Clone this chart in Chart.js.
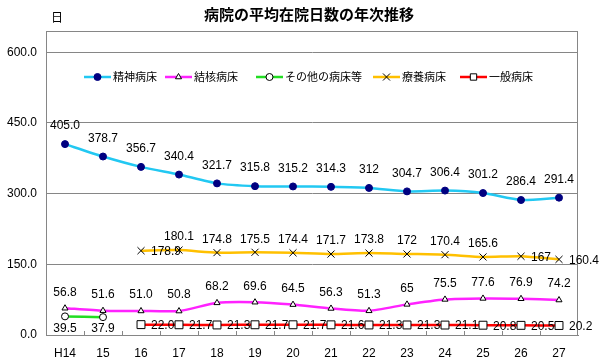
<!DOCTYPE html>
<html>
<head>
<meta charset="utf-8">
<script src="https://cdn.jsdelivr.net/npm/chart.js@4/dist/chart.umd.min.js"></script>
<style>
  html, body { margin: 0; padding: 0; background: #fff; }
</style>
</head>
<body>
<canvas id="myChart" width="600" height="361"></canvas>
<script>
// 年次 (平成)
const years = ["H14", "15", "16", "17", "18", "19", "20", "21", "22", "23", "24", "25", "26", "27"];

// values as printed on the chart
const seishin = ["405.0", "378.7", "356.7", "340.4", "321.7", "315.8", "315.2", "314.3", "312", "304.7", "306.4", "301.2", "286.4", "291.4"];
const kekkaku = ["56.8", "51.6", "51.0", "50.8", "68.2", "69.6", "64.5", "56.3", "51.3", "65", "75.5", "77.6", "76.9", "74.2"];
const sonota = ["39.5", "37.9", null, null, null, null, null, null, null, null, null, null, null, null];
const ryoyo = [null, null, "178.9", "180.1", "174.8", "175.5", "174.4", "171.7", "173.8", "172", "170.4", "165.6", "167", "160.4"];
const ippan = [null, null, "22.0", "21.7", "21.3", "21.7", "21.7", "21.6", "21.3", "21.3", "21.1", "20.8", "20.5", "20.2"];

const yTicks = [0, 150, 300, 450, 600];

const num = (arr) => arr.map((v) => (v === null ? null : Number(v)));
const LABEL_FONT = '12px "Liberation Sans Narrow", "Liberation Sans", sans-serif';
const JP_FONT = '"Liberation Sans", "Noto Sans CJK JP", sans-serif';

const series = [
  { label: "精神病床", raw: seishin, color: "#22C8F2", style: "circle", radius: 3.5, fill: "#000080", stroke: "#000080", pos: () => "above", gap: 18 },
  { label: "結核病床", raw: kekkaku, color: "#FF22FF", style: "triangle", radius: 3.5, fill: "#ffffff", stroke: "#000000", pos: () => "above", gap: 16 },
  { label: "その他の病床等", raw: sonota, color: "#22DD22", style: "circle", radius: 3.5, fill: "#ffffff", stroke: "#000000", pos: () => "below", gap: 12 },
  { label: "療養病床", raw: ryoyo, color: "#FFC000", style: "crossRot", radius: 5, fill: "#000000", stroke: "#000000", pos: (i) => (i === 2 || i === 12 || i === 13 ? "right" : "above"), gap: 13 },
  { label: "一般病床", raw: ippan, color: "#FF0000", style: "rect", radius: 5.6, fill: "#ffffff", stroke: "#000000", pos: () => "right", gap: 0 },
];

// frame, inner tick marks, data labels, legend and title
const decor = {
  id: "decor",
  beforeDatasetsDraw(chart) {
    const { ctx, chartArea: a } = chart;
    const x = chart.scales.x;
    ctx.save();
    ctx.strokeStyle = "#868686";
    ctx.lineWidth = 1;
    ctx.strokeRect(a.left + 0.5, a.top + 0.5, a.right - a.left - 1, a.bottom - a.top);
    ctx.beginPath();
    for (let i = 1; i < years.length; i++) {
      const px = Math.round((x.getPixelForValue(i - 1) + x.getPixelForValue(i)) / 2) + 0.5;
      ctx.moveTo(px, a.bottom);
      ctx.lineTo(px, a.bottom - 4);
    }
    ctx.stroke();
    ctx.restore();
  },
  afterDatasetsDraw(chart) {
    const { ctx } = chart;
    ctx.save();
    ctx.font = LABEL_FONT;
    ctx.fillStyle = "#000";
    chart.data.datasets.forEach((ds, di) => {
      const s = series[di];
      const meta = chart.getDatasetMeta(di);
      meta.data.forEach((pt, i) => {
        const txt = s.raw[i];
        if (txt === null) return;
        const p = s.pos(i);
        if (p === "right") {
          ctx.textAlign = "left";
          ctx.textBaseline = "middle";
          ctx.fillText(txt, pt.x + 10, pt.y + 1);
        } else if (p === "below") {
          ctx.textAlign = "center";
          ctx.textBaseline = "middle";
          ctx.fillText(txt, pt.x, pt.y + s.gap);
        } else {
          ctx.textAlign = "center";
          ctx.textBaseline = "middle";
          ctx.fillText(txt, pt.x, pt.y - s.gap);
        }
      });
    });
    ctx.restore();
  },
  afterDraw(chart) {
    const { ctx } = chart;
    ctx.save();
    // legend inside the plot
    const starts = [84, 165, 256, 373, 460];
    const ly = 77;
    ctx.font = "11px " + JP_FONT;
    ctx.textBaseline = "middle";
    ctx.textAlign = "left";
    series.forEach((s, i) => {
      const x0 = starts[i];
      ctx.strokeStyle = s.color;
      ctx.lineWidth = 2.5;
      ctx.beginPath();
      ctx.moveTo(x0, ly);
      ctx.lineTo(x0 + 27, ly);
      ctx.stroke();
      ctx.fillStyle = s.fill;
      ctx.strokeStyle = s.stroke;
      ctx.lineWidth = 1;
      Chart.helpers.drawPoint(ctx, { pointStyle: s.style, radius: s.style === "rect" ? 4.5 : s.radius, borderWidth: 1, rotation: 0 }, x0 + 13.5, ly);
      ctx.fillStyle = "#000";
      ctx.fillText(s.label, x0 + 29, ly + 0.5);
    });
    // title and unit
    ctx.font = 'bold 15px "Noto Sans CJK JP", sans-serif';
    ctx.textAlign = "center";
    ctx.fillText("病院の平均在院日数の年次推移", 309, 14);
    ctx.font = '12px "Noto Sans CJK JP", sans-serif';
    ctx.fillText("日", 57, 17);
    ctx.restore();
  },
};

new Chart("myChart", {
  type: "line",
  data: {
    labels: years,
    datasets: series.map((s) => ({
      label: s.label,
      data: num(s.raw),
      borderColor: s.color,
      borderWidth: 2.5,
      backgroundColor: s.fill,
      pointStyle: s.style,
      pointRadius: s.radius,
      pointBorderColor: s.stroke,
      pointBackgroundColor: s.fill,
      pointBorderWidth: 1,
      tension: 0.2,
      fill: false,
    })),
  },
  options: {
    responsive: false,
    animation: false,
    layout: { padding: { top: 31, right: 22, left: 0, bottom: 0 } },
    plugins: {
      legend: { display: false },
      title: { display: false },
      tooltip: { enabled: false },
    },
    scales: {
      x: {
        offset: true,
        grid: { display: false, drawTicks: false },
        border: { display: true, color: "#868686", width: 1 },
        ticks: { color: "#000", padding: 11, font: { family: "Liberation Sans", size: 12 }, maxRotation: 0, autoSkip: false },
        afterFit(scale) { scale.height = 26; },
      },
      y: {
        min: 0,
        max: 645,
        afterBuildTicks(scale) { scale.ticks = yTicks.map((v) => ({ value: v })); },
        grid: { color: "#868686", lineWidth: 1, drawTicks: false },
        border: { display: true, color: "#868686", width: 1 },
        ticks: {
          color: "#000",
          padding: 9,
          font: { family: "Liberation Sans", size: 12 },
          callback: (v) => Number(v).toFixed(1),
        },
        afterFit(scale) { scale.width = 46; },
      },
    },
  },
  plugins: [decor],
});
</script>
</body>
</html>
